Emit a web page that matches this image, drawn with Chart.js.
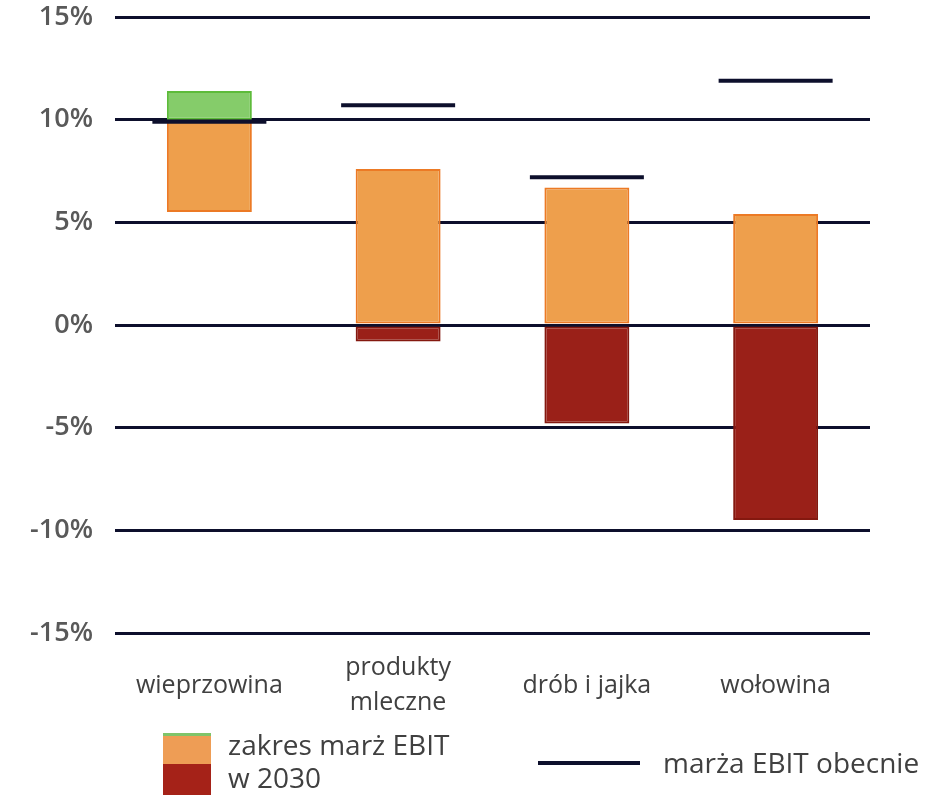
<!DOCTYPE html>
<html>
<head>
<meta charset="utf-8">
<script src="https://cdn.jsdelivr.net/npm/chart.js@4"></script>
<style>
  body { margin: 0; background: #fff; width: 941px; height: 795px; position: relative; overflow: hidden; font-family: "Open Sans", sans-serif; }
  /* canvas shifted up: the long point style of the line dataset forces extra top padding */
  #wrap { position: absolute; left: 0; top: -44px; width: 941px; height: 797px; }
  .legend-text { position: absolute; color: #404040; font-size: 28px; line-height: 33px; }
  .swatch { position: absolute; left: 163px; width: 48px; }
</style>
</head>
<body>
<div id="wrap"><canvas id="ebitChart" width="941" height="797"></canvas></div>

<!-- legend -->
<div class="swatch" style="top:733px;height:3px;background:#7fc46a"></div>
<div class="swatch" style="top:736px;height:28px;background:#ee9d55"></div>
<div class="swatch" style="top:764px;height:31px;background:#a52218"></div>
<div class="legend-text" style="left:228px;top:728px">zakres marż EBIT<br>w 2030</div>
<div style="position:absolute;left:538px;top:761px;width:102px;height:4px;background:#0d0f2c"></div>
<div class="legend-text" style="left:663px;top:746px">marża EBIT obecnie</div>

<script>
// categories and values (percent)
var categories = ['wieprzowina', ['produkty', 'mleczne'], 'drób i jajka', 'wołowina'];
var orangeLow = [5.5, 0, 0, 0];
var orangeHigh = [10, 7.6, 6.7, 5.4];
var greenLow = [10, null, null, null];
var greenHigh = [11.4, null, null, null];
var redLow = [null, -0.8, -4.8, -9.5];
var redHigh = [null, 0, 0, 0];
var currentMargin = [9.9, 10.7, 7.2, 11.9];
var yTicks = [-15, -10, -5, 0, 5, 10, 15];

function pairs(low, high) {
  return low.map(function (v, i) {
    return v === null ? null : [v, high[i]];
  });
}

var ctx = document.getElementById('ebitChart').getContext('2d');
var chart = new Chart(ctx, {
  type: 'bar',
  data: {
    labels: categories,
    datasets: [
      {
        type: 'line',
        label: 'marża EBIT obecnie',
        data: currentMargin,
        showLine: false,
        pointStyle: 'line',
        pointRadius: 57,
        pointBorderWidth: 4,
        pointBorderColor: '#0d0f2c',
        borderColor: '#0d0f2c',
        order: -1
      },
      {
        label: 'zakres marż EBIT w 2030 (wzrost)',
        data: pairs(greenLow, greenHigh),
        backgroundColor: '#85cc6a',
        borderColor: '#5dbb3a',
        borderWidth: 2,
        borderSkipped: false
      },
      {
        label: 'zakres marż EBIT w 2030',
        data: pairs(orangeLow, orangeHigh),
        backgroundColor: '#ee9f4c',
        borderColor: '#ec7a25',
        borderWidth: 2,
        borderSkipped: false
      },
      {
        label: 'zakres marż EBIT w 2030 (strata)',
        data: pairs(redLow, redHigh),
        backgroundColor: '#9a2018',
        borderColor: '#84180f',
        borderWidth: 2,
        borderSkipped: false
      }
    ]
  },
  options: {
    responsive: false,
    animation: false,
    barPercentage: 0.9,
    categoryPercentage: 0.5,
    layout: { padding: { top: 0, right: 71, left: 0, bottom: 0 } },
    scales: {
      x: {
        stacked: true,
        grid: { display: false, drawTicks: false },
        border: { display: false },
        afterFit: function (scale) { scale.height = 120; },
        ticks: {
          crossAlign: 'center',
          padding: 35,
          color: '#404040',
          font: { family: 'Open Sans', size: 25, lineHeight: 1.4 }
        }
      },
      y: {
        min: -15,
        max: 15,
        afterFit: function (scale) { scale.width = 115; },
        afterBuildTicks: function (scale) {
          scale.ticks = yTicks.map(function (v) { return { value: v }; });
        },
        grid: { color: '#0d0f2c', lineWidth: 3, drawTicks: false },
        border: { display: false },
        ticks: {
          padding: 22,
          color: '#595959',
          font: { family: 'Open Sans', size: 27, weight: '600' },
          callback: function (v) { return v + '%'; }
        }
      }
    },
    plugins: {
      legend: { display: false },
      tooltip: { enabled: false }
    }
  }
});
</script>
</body>
</html>
